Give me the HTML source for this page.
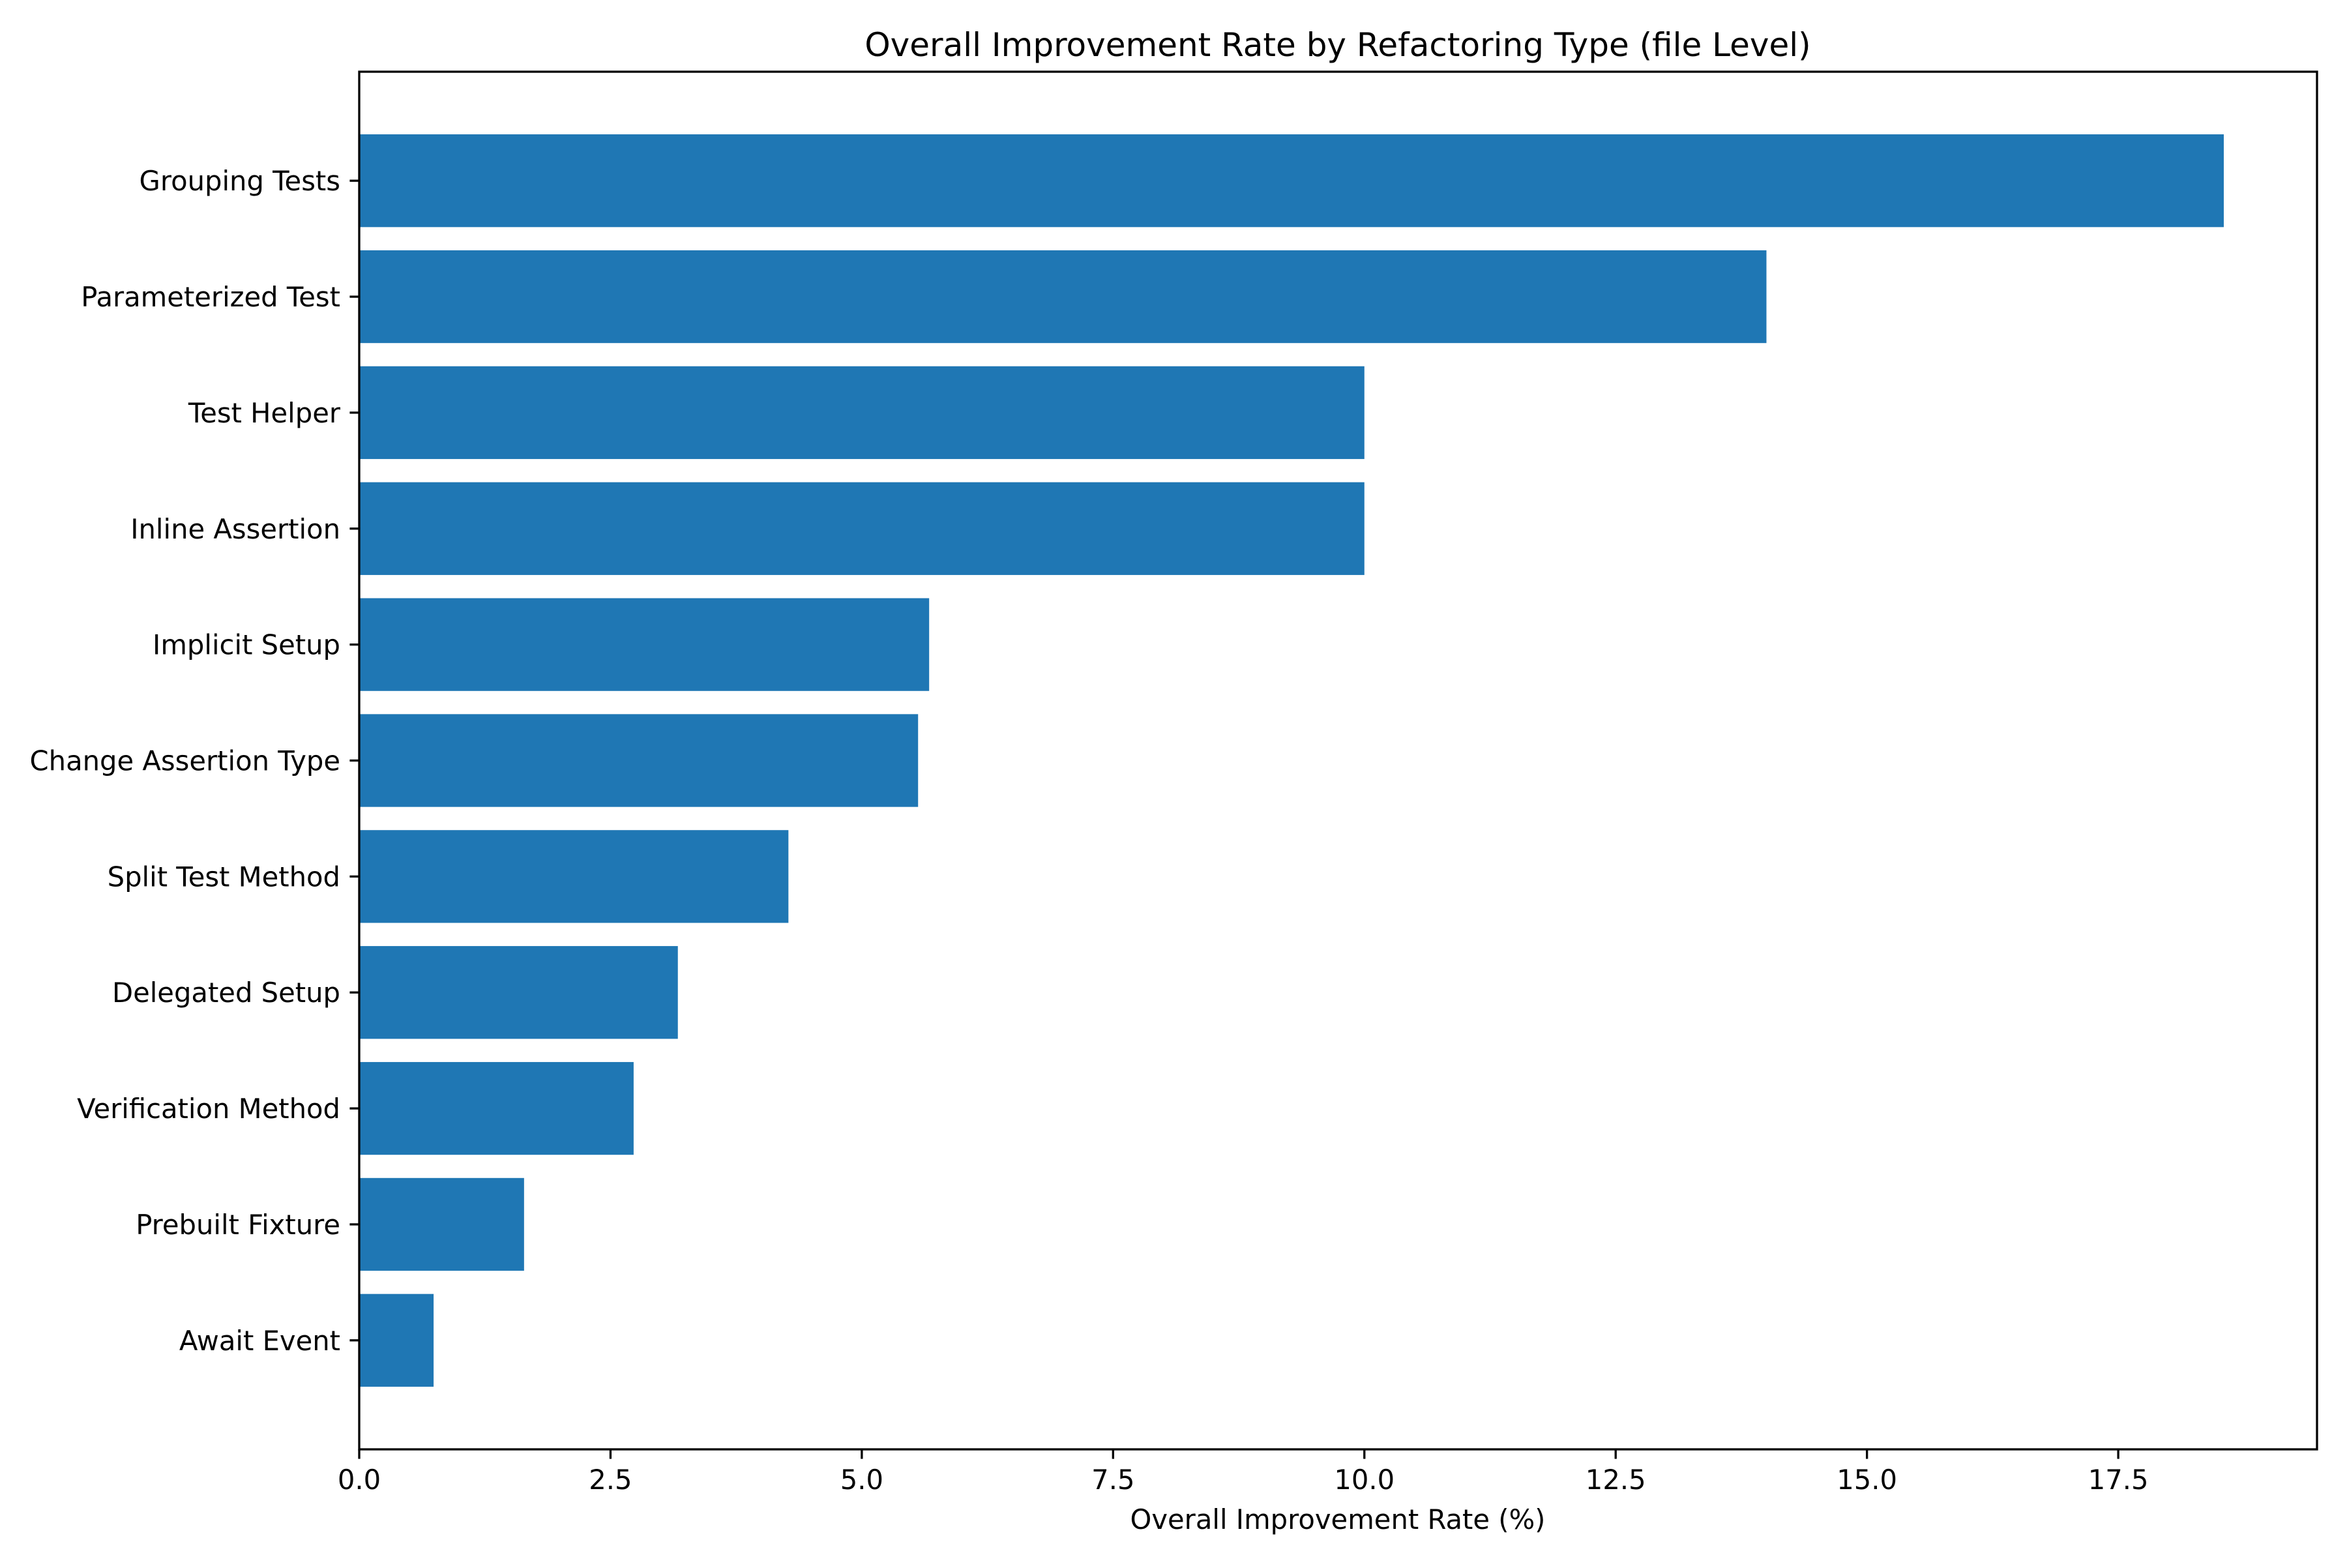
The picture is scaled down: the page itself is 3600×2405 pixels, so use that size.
<!DOCTYPE html>
<html><head><meta charset="utf-8"><style>
html,body{margin:0;padding:0;background:#fff;}
svg text{font-family:"DejaVu Sans","Liberation Sans",sans-serif;fill:#000;}
</style></head><body>
<svg id="chart" width="3600" height="2400" xmlns="http://www.w3.org/2000/svg">
<rect width="3600" height="2400" fill="#fff"/>
<text x="2052" y="86" font-size="50" text-anchor="middle">Overall Improvement Rate by Refactoring Type (file Level)</text>
<g id="bars"></g><g id="yaxis"></g><g id="xaxis"></g>
<rect x="551" y="110" width="3003" height="2113" fill="none" stroke="#000" stroke-width="3.3"/>
<text x="2052" y="2345" font-size="41.7" text-anchor="middle">Overall Improvement Rate (%)</text>
</svg>
<script>
const categories = ["Grouping Tests","Parameterized Test","Test Helper","Inline Assertion","Implicit Setup","Change Assertion Type","Split Test Method","Delegated Setup","Verification Method","Prebuilt Fixture","Await Event"];
const values = [18.55,14.0,10.0,10.0,5.67,5.56,4.27,3.17,2.73,1.64,0.74];
const xTicks = [0,2.5,5,7.5,10,12.5,15,17.5];
const xTickLabels = ["0.0","2.5","5.0","7.5","10.0","12.5","15.0","17.5"];

const NS="http://www.w3.org/2000/svg";
const L=551,R=3554,T=110,B=2223;
const xmax=Math.max(...values)*1.05;
const n=categories.length;
const ymin=-0.4-0.05*(n-1+0.8), ymax=n-1+0.4+0.05*(n-1+0.8);
function xs(v){return L+(v/xmax)*(R-L);}
function ys(i){return T+(i-ymin)/(ymax-ymin)*(B-T);}
function mk(tag,attrs,parent){const e=document.createElementNS(NS,tag);for(const k in attrs)e.setAttribute(k,attrs[k]);parent.appendChild(e);return e;}
const gb=document.getElementById('bars'),gy=document.getElementById('yaxis'),gx=document.getElementById('xaxis');
categories.forEach((c,i)=>{
  const y0=ys(i-0.4),y1=ys(i+0.4);
  const r=mk('rect',{x:L,y:y0,width:xs(values[i])-L,height:y1-y0,fill:'#1f77b4'},gb);
  
  
  const cy=ys(i);
  const t=mk('line',{x1:L,x2:L-14.6,y1:cy,y2:cy,stroke:'#000','stroke-width':3.3},gy);
  
  
  const lb=mk('text',{x:L-29,y:cy+15,'font-size':41.7,'text-anchor':'end'},gy);
  lb.textContent=c;
  
  
});
xTicks.forEach((v,i)=>{
  const x=xs(v);
  const t=mk('line',{x1:x,x2:x,y1:B,y2:B+14.6,stroke:'#000','stroke-width':3.3},gx);
  
  
  const lb=mk('text',{x:x,y:B+61,'font-size':41.7,'text-anchor':'middle'},gx);
  lb.textContent=xTickLabels[i];
  
  
});
</script>
</body></html>
